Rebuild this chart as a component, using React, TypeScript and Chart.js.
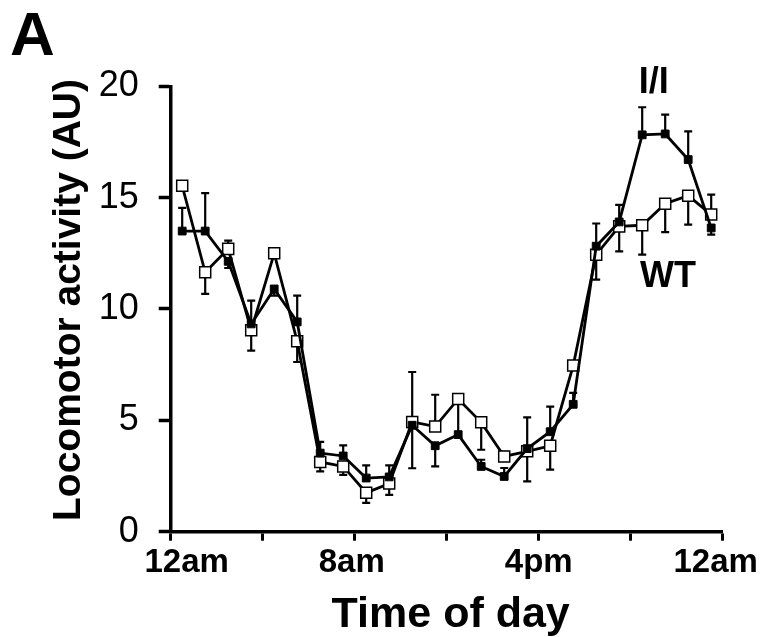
import React, { useEffect, useRef } from 'react';
import { Chart, registerables } from 'chart.js';

Chart.register(...registerables);

// Hour-of-day midpoints for each hourly bin
const HOURS = [0.5, 1.5, 2.5, 3.5, 4.5, 5.5, 6.5, 7.5, 8.5, 9.5, 10.5, 11.5, 12.5, 13.5, 14.5, 15.5, 16.5, 17.5, 18.5, 19.5, 20.5, 21.5, 22.5, 23.5];

// Locomotor activity (AU)
const WT = [15.53, 11.65, 12.7, 9.05, 12.5, 8.55, 3.13, 2.93, 1.75, 2.16, 4.93, 4.72, 5.96, 4.91, 3.38, 3.61, 3.86, 7.46, 12.44, 13.71, 13.76, 14.73, 15.09, 14.24];
const II = [13.5, 13.5, 12.14, 9.33, 10.9, 9.42, 3.53, 3.4, 2.41, 2.46, 4.78, 3.86, 4.36, 2.93, 2.48, 3.73, 4.49, 5.72, 12.82, 13.91, 17.82, 17.86, 16.71, 13.64];

// One-sided error bars (signed: + drawn upward, - drawn downward)
const WT_ERR = [0.2, -0.97, 0.37, -0.92, 0.2, -0.93, -0.42, -0.38, -0.46, -0.51, 2.24, 1.43, 0.2, -1.23, 0.2, -1.35, -1.07, 0.2, -1.12, -1.12, -1.32, -1.28, -1.3, 0.9];
const II_ERR = [1.04, 1.7, -0.3, 1.05, -0.3, 1.18, 0.5, 0.48, 0.57, 0.52, -1.93, -0.93, 1.5, 0.3, 0.38, 1.4, 1.13, 0.51, 1.02, 0.77, 1.24, 0.87, 1.27, -0.3];

const X_TICK_LABELS = ['12am', '', '8am', '', '4pm', '', '12am'];
const Y_TITLE = 'Locomotor activity (AU)';
const X_TITLE = 'Time of day';
const PANEL = 'A';

const FONT = '"Liberation Sans", Arial, Helvetica, sans-serif';

const overlay = {
  id: 'overlay',
  beforeDatasetsDraw(chart: any) {
    const { ctx, scales } = chart;
    const x = scales.x;
    const y = scales.y;
    ctx.save();
    ctx.strokeStyle = '#000';
    ctx.lineWidth = 2.2;
    const sets: [number[], number[]][] = [[WT, WT_ERR], [II, II_ERR]];
    sets.forEach(([vals, errs]) => {
      vals.forEach((v, i) => {
        const e = errs[i];
        if (!e) return;
        const px = x.getPixelForValue(HOURS[i]);
        const y0 = y.getPixelForValue(v);
        const y1 = y.getPixelForValue(v + e);
        ctx.beginPath();
        ctx.moveTo(px, y0);
        ctx.lineTo(px, y1);
        ctx.moveTo(px - 4, y1);
        ctx.lineTo(px + 4, y1);
        ctx.stroke();
      });
    });
    ctx.restore();
  },
  afterDraw(chart: any) {
    const { ctx, scales, chartArea } = chart;
    const x = scales.x;
    const y = scales.y;
    ctx.save();
    ctx.fillStyle = '#000';

    // x tick labels
    ctx.font = `bold 33px ${FONT}`;
    ctx.textAlign = 'center';
    ctx.textBaseline = 'alphabetic';
    const nudges = [16, 0, -3, 0, 0, 0, -7];
    X_TICK_LABELS.forEach((lab, i) => {
      if (!lab) return;
      const px = x.getPixelForValue(i * 4) + nudges[i];
      ctx.fillText(lab, px, chartArea.bottom + 40);
    });

    // x title
    ctx.font = `bold 43px ${FONT}`;
    ctx.fillText(X_TITLE, (chartArea.left + chartArea.right) / 2 + 4, chartArea.bottom + 95);

    // y title
    ctx.save();
    ctx.translate(80, 300);
    ctx.rotate(-Math.PI / 2);
    ctx.font = `bold 39px ${FONT}`;
    ctx.textAlign = 'center';
    ctx.fillText(Y_TITLE, 0, 0);
    ctx.restore();

    // panel letter
    ctx.font = `bold 62px ${FONT}`;
    ctx.textAlign = 'left';
    ctx.fillText(PANEL, 10, 55);

    // series labels
    ctx.font = `bold 36px ${FONT}`;
    ctx.textAlign = 'center';
    ctx.fillText('I/I', x.getPixelForValue(21.0), y.getPixelForValue(19.69));
    ctx.fillText('WT', x.getPixelForValue(21.62), y.getPixelForValue(11.0));
    ctx.restore();
  },
};

export default function App() {
  const ref = useRef<HTMLCanvasElement | null>(null);
  useEffect(() => {
    if (!ref.current) return;
    const chart = new Chart(ref.current, {
      type: 'line',
      data: {
        datasets: [
          {
            label: 'WT',
            data: WT.map((v, i) => ({ x: HOURS[i], y: v })),
            borderColor: '#000',
            borderWidth: 2.8,
            tension: 0,
            pointStyle: 'rect',
            pointRadius: 7.8,
            pointBackgroundColor: '#fff',
            pointBorderColor: '#000',
            pointBorderWidth: 1.5,
            order: 1,
          },
          {
            label: 'I/I',
            data: II.map((v, i) => ({ x: HOURS[i], y: v })),
            borderColor: '#000',
            borderWidth: 2.8,
            tension: 0,
            pointStyle: 'rect',
            pointRadius: 5.5,
            pointBackgroundColor: '#000',
            pointBorderColor: '#000',
            pointBorderWidth: 1,
            order: 0,
          },
        ],
      },
      options: {
        animation: false,
        responsive: false,
        maintainAspectRatio: false,
        devicePixelRatio: 1,
        layout: { padding: { left: 0, right: 39.3, top: 86.3, bottom: 0 } },
        plugins: {
          legend: { display: false },
          tooltip: { enabled: false },
        },
        scales: {
          x: {
            type: 'linear',
            min: 0,
            max: 24,
            ticks: { display: false, stepSize: 4 },
            grid: { drawOnChartArea: false, drawTicks: true, tickLength: 9, tickWidth: 3, tickColor: '#000' },
            border: { display: true, color: '#000', width: 3.5 },
            afterFit(s: any) {
              s.height = 105.3;
            },
          },
          y: {
            min: 0,
            max: 20,
            ticks: { stepSize: 5, color: '#000', font: { family: FONT, size: 36 }, padding: 20 },
            grid: { drawOnChartArea: false, drawTicks: true, tickLength: 12, tickWidth: 3.5, tickColor: '#000' },
            border: { display: true, color: '#000', width: 3.5 },
            afterFit(s: any) {
              s.width = 170.7;
            },
          },
        },
      },
      plugins: [overlay],
    });
    return () => chart.destroy();
  }, []);
  return (
    <div style={{ position: 'absolute', left: 0, top: 0, width: 762, height: 637, background: '#fff' }}>
      <canvas ref={ref} width={762} height={637} style={{ display: 'block', width: 762, height: 637 }} />
    </div>
  );
}
